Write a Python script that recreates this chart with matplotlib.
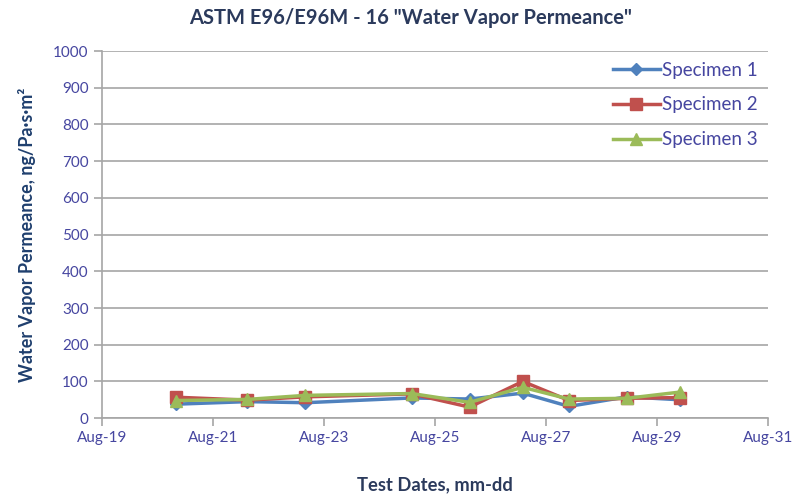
import datetime as dt
import matplotlib
matplotlib.use('Agg')
import matplotlib.pyplot as plt
import matplotlib.dates as mdates

plt.rcParams['font.family'] = ['Lato', 'DejaVu Sans']

# test dates (with time of weighing)
fechas = [dt.datetime(2016, 8, 20, 8), dt.datetime(2016, 8, 21, 15), dt.datetime(2016, 8, 22, 16),
          dt.datetime(2016, 8, 24, 14), dt.datetime(2016, 8, 25, 15), dt.datetime(2016, 8, 26, 14),
          dt.datetime(2016, 8, 27, 10), dt.datetime(2016, 8, 28, 11), dt.datetime(2016, 8, 29, 10)]
specimen1 = [38, 45, 42, 55, 52, 68, 32, 58, 50]
specimen2 = [57, 49, 58, 66, 30, 100, 48, 54, 56]
specimen3 = [48, 51, 62, 67, 43, 84, 52, 54, 71]

fig = plt.figure(figsize=(7.95, 4.96), dpi=100)
ax = fig.add_axes([0.128, 0.157, 0.838, 0.74])

ax.plot(fechas, specimen1, color='#4F81BD', marker='D', markersize=6, lw=2.5, label='Specimen 1')
ax.plot(fechas, specimen2, color='#C0504D', marker='s', markersize=9, lw=2.5, label='Specimen 2')
ax.plot(fechas, specimen3, color='#9BBB59', marker='^', markersize=9, lw=2.5, label='Specimen 3')

ax.set_ylim(0, 1000)
ax.set_yticks(range(0, 1001, 100))
ax.set_xlim(dt.datetime(2016, 8, 19), dt.datetime(2016, 8, 31))
ax.xaxis.set_major_locator(mdates.DayLocator(interval=2))
ax.xaxis.set_major_formatter(mdates.DateFormatter('%b-%d'))

ax.grid(axis='y', color='#A6A6A6', lw=1.2)
ax.set_axisbelow(True)
for s in ['top', 'right']:
    ax.spines[s].set_visible(False)
for s in ['left', 'bottom']:
    ax.spines[s].set_color('#A6A6A6')
    ax.spines[s].set_linewidth(1.2)
ax.tick_params(colors='#A6A6A6', labelcolor='#4646A0', labelsize=11, length=6, width=1.2)

fig.text(0.516, 0.963, 'ASTM E96/E96M - 16 "Water Vapor Permeance"', fontsize=14.5,
         fontweight='bold', color='#2B3A5C', ha='center', va='center')
ax.set_xlabel('Test Dates, mm-dd', fontsize=13.2, fontweight='bold', color='#2B3A5C', labelpad=22)
ax.set_ylabel('Water Vapor Permeance, ng/Pa·s·m²', fontsize=13, fontweight='bold',
              color='#1F3F6E', labelpad=12)

leg = ax.legend(loc='upper left', bbox_to_anchor=(0.771, 0.876), bbox_transform=fig.transFigure,
                frameon=False, fontsize=13.5, labelcolor='#4646A0', handlelength=2.5,
                handletextpad=0.1, labelspacing=0.95, borderpad=0, borderaxespad=0)

fig.savefig('out.png', dpi=100)
